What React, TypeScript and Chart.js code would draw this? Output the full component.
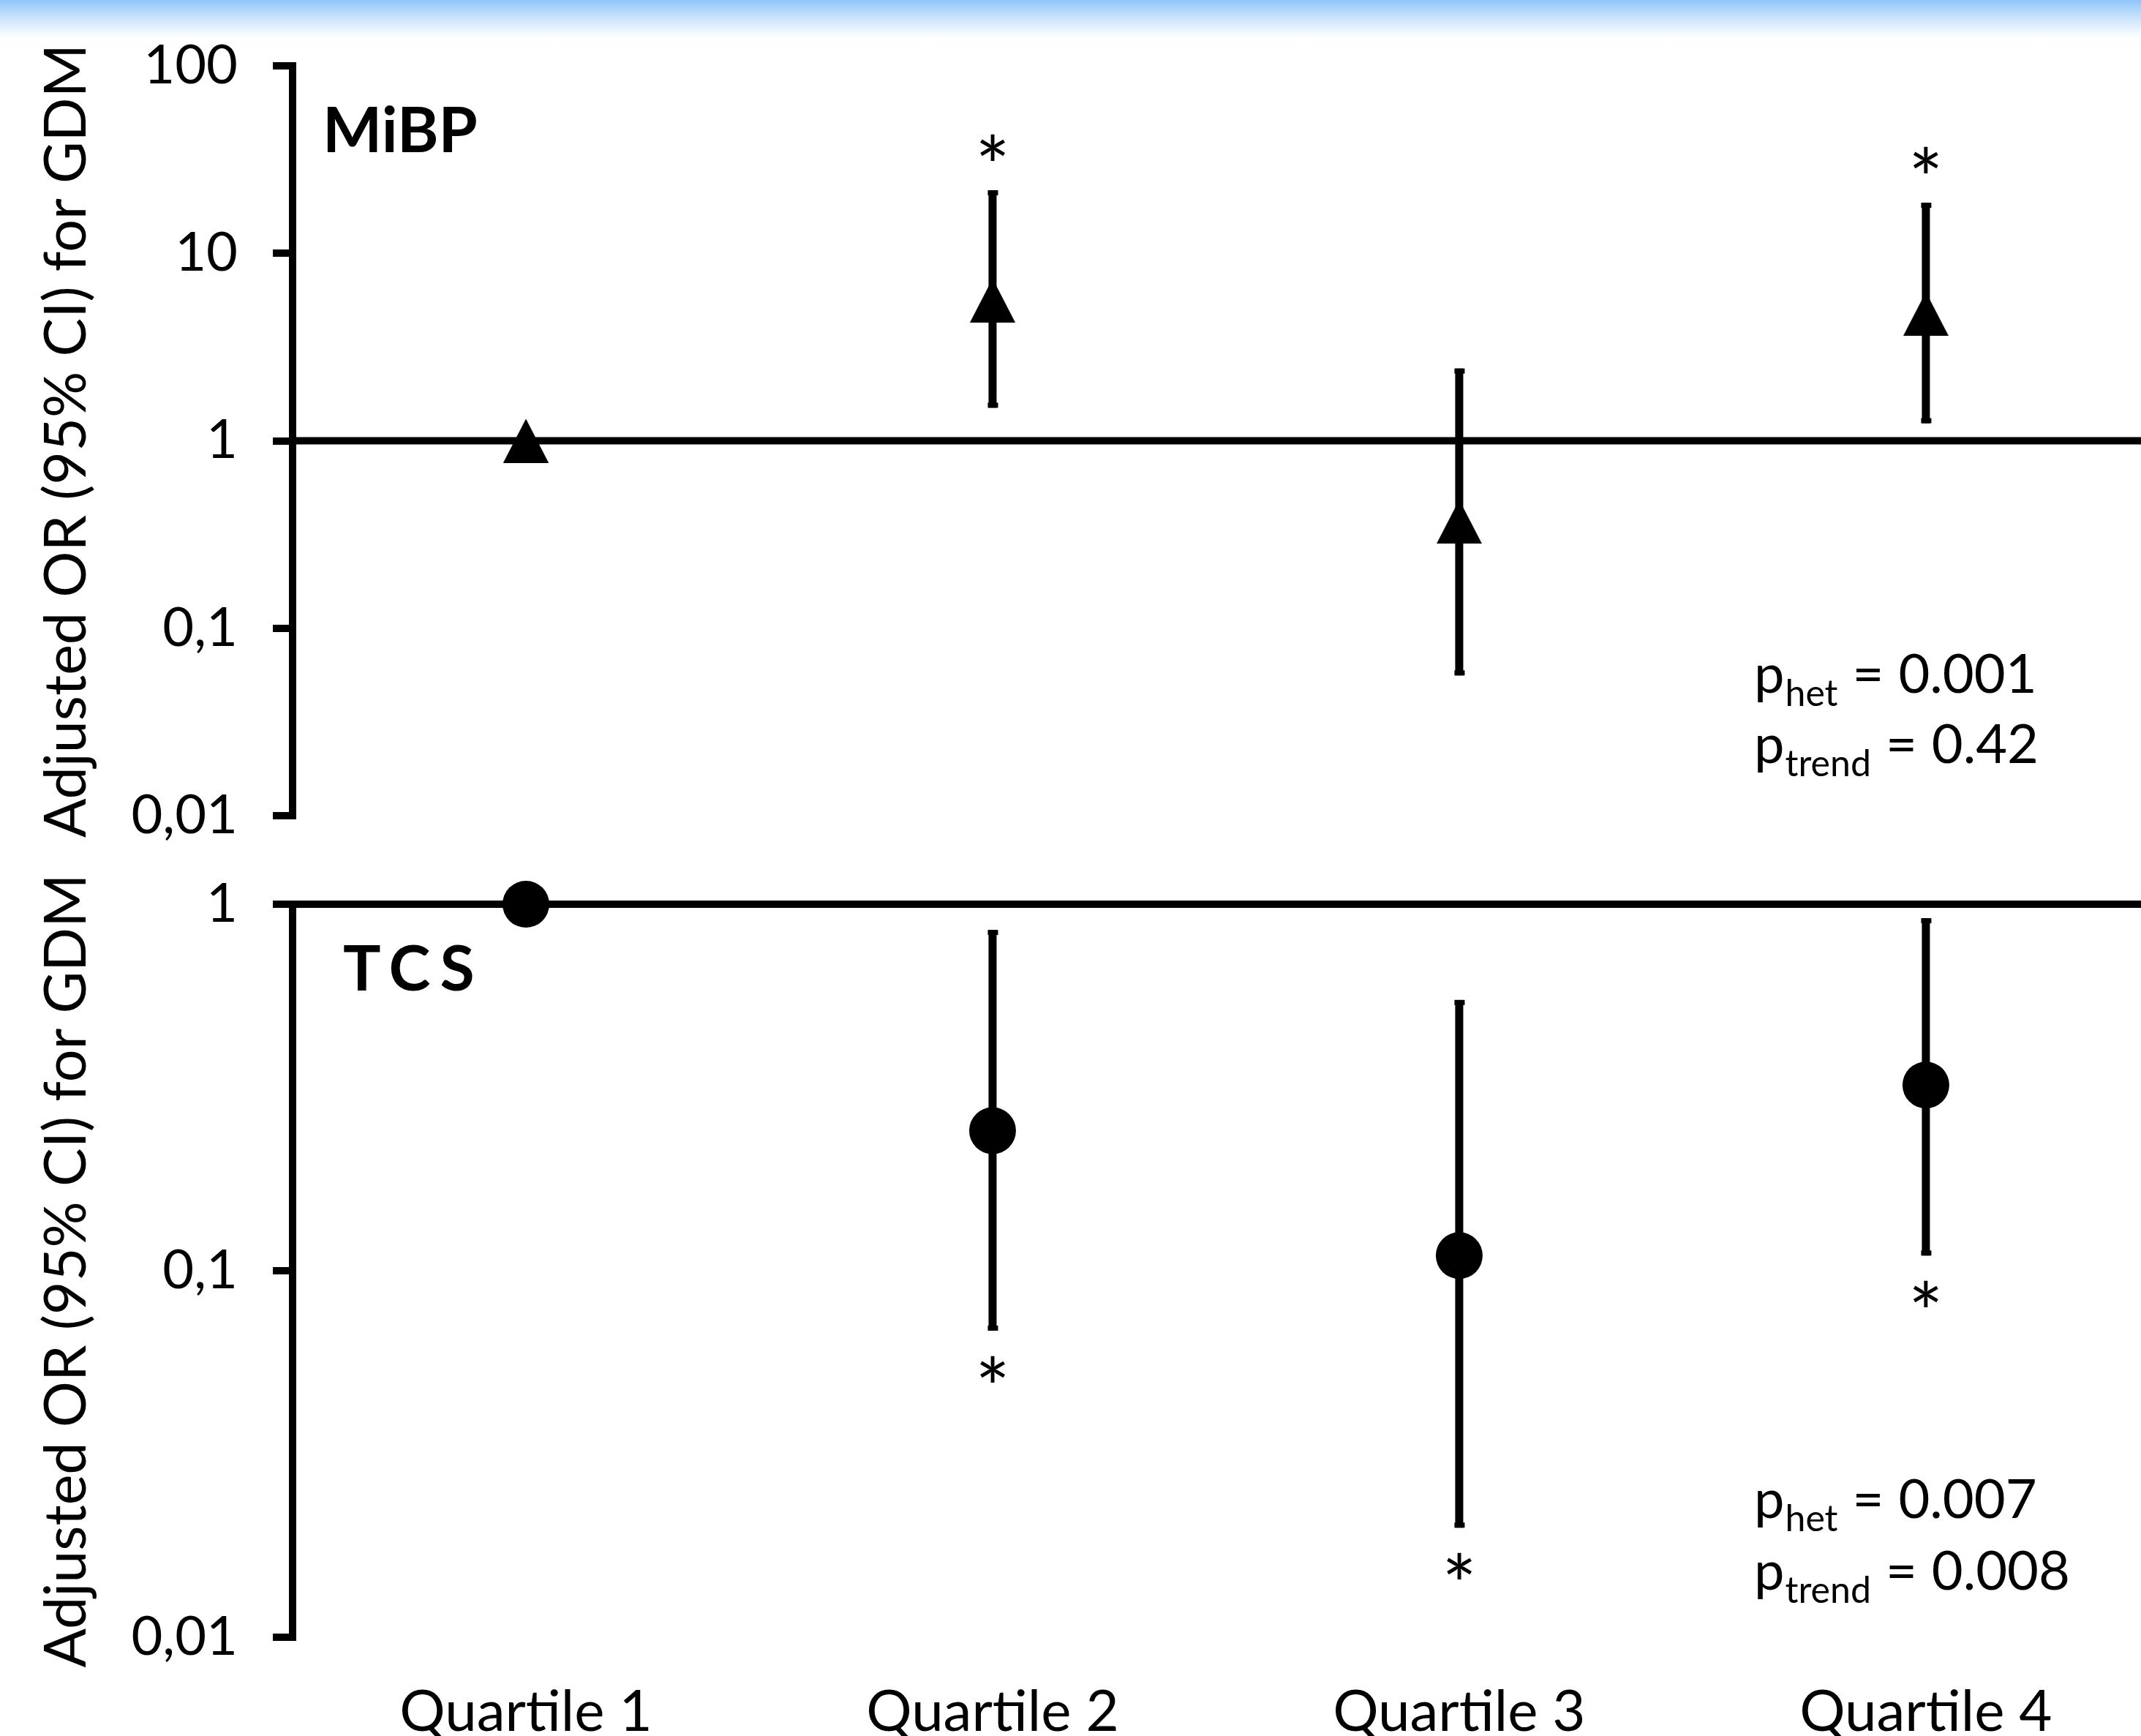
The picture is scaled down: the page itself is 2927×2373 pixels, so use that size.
import React, { useEffect, useRef } from 'react';
import { Chart, registerables } from 'chart.js';

Chart.register(...registerables);

// ---------------- data ----------------
const categories = ['Quartile 1', 'Quartile 2', 'Quartile 3', 'Quartile 4'];
const yTickValues = [0.01, 0.1, 1, 10, 100];
const yTickLabels = ['0,01', '0,1', '1', '10', '100'];
const referenceOR = 1;

const mibpOR = [1, 5.6, 0.37, 4.75];
const mibpLower = [null, 1.5, 0.056, 1.24];
const mibpUpper = [null, 21.7, 2.43, 18.6];
const mibpSignificant = [false, true, false, true];

const tcsOR = [1, 0.241, 0.11, 0.321];
const tcsLower = [null, 0.0686, 0.0199, 0.11];
const tcsUpper = [null, 0.851, 0.548, 0.916];
const tcsSignificant = [false, true, true, true];

const panelNames = ['MiBP', 'TCS'];
const pHet = ['0.001', '0.007'];
const pTrend = ['0.42', '0.008'];
const yAxisTitle = 'Adjusted OR (95% CI) for GDM';

// ---------------- styling / layout ----------------
const W = 2927;
const FONT = 'Lato, "Open Sans", sans-serif';
const X_MIN = -0.5;
const X_MAX = 3.461;

function makeTriangle(): HTMLCanvasElement {
  const c = document.createElement('canvas');
  c.width = 62;
  c.height = 60;
  const ctx = c.getContext('2d')!;
  ctx.fillStyle = '#000';
  ctx.beginPath();
  ctx.moveTo(31, 0);
  ctx.lineTo(62, 60);
  ctx.lineTo(0, 60);
  ctx.closePath();
  ctx.fill();
  return c;
}

const errorBarPlugin = {
  id: 'errorBars',
  beforeDatasetsDraw(chart: any) {
    const o = chart.options.plugins.errorBars;
    if (!o) return;
    const { ctx } = chart;
    const xs = chart.scales.x;
    const ys = chart.scales.y;
    ctx.save();
    ctx.fillStyle = '#000';
    for (let i = 0; i < o.or.length; i++) {
      const lo = o.lower[i];
      const hi = o.upper[i];
      if (lo == null || hi == null) continue;
      const x = xs.getPixelForValue(i);
      const yLo = ys.getPixelForValue(lo);
      const yHi = ys.getPixelForValue(hi);
      ctx.fillRect(x - 5.5, yHi, 11, yLo - yHi);
      ctx.fillRect(x - 6.5, yHi, 14, 7);
      ctx.fillRect(x - 6.5, yLo - 7, 14, 7);
      if (o.sig[i]) {
        ctx.font = `112px ${FONT}`;
        ctx.textAlign = 'center';
        ctx.textBaseline = 'alphabetic';
        const m = ctx.measureText('*');
        const a = m.actualBoundingBoxAscent;
        const d = m.actualBoundingBoxDescent;
        const up = o.or[i] > referenceOR;
        const center = up ? yHi - o.starOffset : yLo + o.starOffset;
        ctx.fillText('*', x, center + (a - d) / 2);
      }
    }
    ctx.restore();
  },
};

const annotationPlugin = {
  id: 'panelText',
  afterDraw(chart: any) {
    const o = chart.options.plugins.panelText;
    if (!o) return;
    const { ctx } = chart;
    ctx.save();
    ctx.fillStyle = '#000';
    ctx.textAlign = 'left';
    ctx.textBaseline = 'alphabetic';
    ctx.font = `bold 86px ${FONT}`;
    if ('letterSpacing' in ctx) (ctx as any).letterSpacing = `${o.nameSpacing}px`;
    ctx.fillText(o.name, o.nameX, o.nameY);
    if ('letterSpacing' in ctx) (ctx as any).letterSpacing = '0px';

    const lines = [
      { sub: 'het', val: o.het, y: o.pY[0] },
      { sub: 'trend', val: o.trend, y: o.pY[1] },
    ];
    for (const l of lines) {
      let x = o.pX;
      ctx.font = `74px ${FONT}`;
      ctx.fillText('p', x, l.y);
      x += ctx.measureText('p').width + 1;
      ctx.font = `50px ${FONT}`;
      ctx.fillText(l.sub, x, l.y + 18);
      x += ctx.measureText(l.sub).width + 20;
      ctx.font = `74px ${FONT}`;
      ctx.fillText('=', x, l.y);
      x += ctx.measureText('=').width + 20;
      ctx.fillText(l.val, x, l.y);
    }
    ctx.restore();
  },
};

function zeroPadding(s: any) {
  s.paddingTop = 0;
  s.paddingBottom = 0;
  s.paddingLeft = 0;
  s.paddingRight = 0;
}

function makeConfig(p: any): any {
  return {
    type: 'scatter',
    data: {
      datasets: [
        {
          type: 'line',
          data: [
            { x: X_MIN, y: referenceOR },
            { x: X_MAX, y: referenceOR },
          ],
          borderColor: '#000',
          borderWidth: 10,
          pointRadius: 0,
          clip: false,
          order: 2,
        },
        {
          data: categories.map((_, i) => ({ x: i, y: p.or[i] })),
          pointStyle: p.marker,
          pointRadius: p.radius,
          backgroundColor: '#000',
          borderColor: '#000',
          borderWidth: 0,
          clip: false,
          order: 1,
        },
      ],
    },
    options: {
      animation: false,
      responsive: false,
      maintainAspectRatio: false,
      events: [],
      layout: {
        autoPadding: false,
        padding: { top: p.padTop, bottom: p.padBottom, left: 0, right: 0 },
      },
      plugins: {
        legend: { display: false },
        tooltip: { enabled: false },
        errorBars: { or: p.or, lower: p.lower, upper: p.upper, sig: p.sig, starOffset: p.starOffset },
        panelText: {
          name: p.name,
          nameX: p.nameX,
          nameY: p.nameY,
          nameSpacing: p.nameSpacing,
          het: p.het,
          trend: p.trend,
          pX: p.pX,
          pY: p.pY,
        },
      },
      scales: {
        x: {
          type: 'linear',
          min: X_MIN,
          max: X_MAX,
          display: p.showX,
          afterBuildTicks: (s: any) => {
            s.ticks = categories.map((_, i) => ({ value: i }));
          },
          afterFit: (s: any) => {
            s.height = p.xHeight;
            zeroPadding(s);
          },
          ticks: {
            autoSkip: false,
            maxRotation: 0,
            minRotation: 0,
            padding: 56,
            color: '#000',
            font: { family: FONT, size: 78 },
            callback: (v: number) => categories[Math.round(v)],
          },
          grid: { display: false, drawTicks: false },
          border: { display: false },
        },
        y: {
          type: 'logarithmic',
          min: p.yMin,
          max: p.yMax,
          afterBuildTicks: (s: any) => {
            s.ticks = yTickValues
              .filter((v) => v >= p.yMin - 1e-12 && v <= p.yMax + 1e-12)
              .map((v) => ({ value: v }));
          },
          afterFit: (s: any) => {
            s.width = 400;
            zeroPadding(s);
          },
          ticks: {
            padding: 48,
            color: '#000',
            font: { family: FONT, size: 74 },
            callback: (v: number) => {
              const idx = yTickValues.findIndex((t) => Math.abs(t - v) / t < 1e-6);
              return idx >= 0 ? yTickLabels[idx] : '';
            },
          },
          grid: {
            drawOnChartArea: false,
            drawTicks: true,
            tickLength: 27,
            lineWidth: 10,
            color: '#000',
          },
          border: { display: true, width: 10, color: '#000' },
          title: {
            display: true,
            text: yAxisTitle,
            color: '#000',
            font: { family: FONT, size: 79 },
            padding: { top: 44, bottom: 0 },
          },
        },
      },
    },
    plugins: [errorBarPlugin, annotationPlugin],
  };
}

const TOP_H = 1180;
const BOT_TOP = 1180;
const BOT_H = 2373 - BOT_TOP;

export default function App() {
  const topRef = useRef<HTMLCanvasElement>(null);
  const botRef = useRef<HTMLCanvasElement>(null);

  useEffect(() => {
    const tri = makeTriangle();
    const top = new Chart(
      topRef.current!,
      makeConfig({
        or: mibpOR,
        lower: mibpLower,
        upper: mibpUpper,
        sig: mibpSignificant,
        yMin: 0.01,
        yMax: 100,
        marker: tri,
        radius: 31,
        padTop: 90,
        padBottom: TOP_H - 1115,
        showX: false,
        xHeight: 0,
        name: panelNames[0],
        nameX: 441,
        nameY: 208,
        nameSpacing: 0,
        het: pHet[0],
        trend: pTrend[0],
        pX: 2398,
        pY: [947, 1043],
        starOffset: 59,
      })
    );
    const bot = new Chart(
      botRef.current!,
      makeConfig({
        or: tcsOR,
        lower: tcsLower,
        upper: tcsUpper,
        sig: tcsSignificant,
        yMin: 0.01,
        yMax: 1,
        marker: 'circle',
        radius: 32,
        padTop: 1236 - BOT_TOP,
        padBottom: 0,
        showX: true,
        xHeight: BOT_H - (2238 - BOT_TOP),
        name: panelNames[1],
        nameX: 469,
        nameY: 1354 - BOT_TOP,
        nameSpacing: 13,
        het: pHet[1],
        trend: pTrend[1],
        pX: 2398,
        pY: [2075 - BOT_TOP, 2173 - BOT_TOP],
        starOffset: 52,
      })
    );
    return () => {
      top.destroy();
      bot.destroy();
    };
  }, []);

  return (
    <div
      style={{
        position: 'absolute',
        left: 0,
        top: 0,
        width: W,
        height: 2373,
        background: '#fff',
        overflow: 'hidden',
      }}
    >
      <div
        style={{
          position: 'absolute',
          left: 0,
          top: 0,
          width: W,
          height: 52,
          background: 'linear-gradient(to bottom, #8ec5fa 0%, #c9e3fb 45%, #ffffff 100%)',
        }}
      />
      <canvas
        ref={topRef}
        width={W}
        height={TOP_H}
        style={{ position: 'absolute', left: 0, top: 0, width: W, height: TOP_H }}
      />
      <canvas
        ref={botRef}
        width={W}
        height={BOT_H}
        style={{ position: 'absolute', left: 0, top: BOT_TOP, width: W, height: BOT_H }}
      />
    </div>
  );
}
